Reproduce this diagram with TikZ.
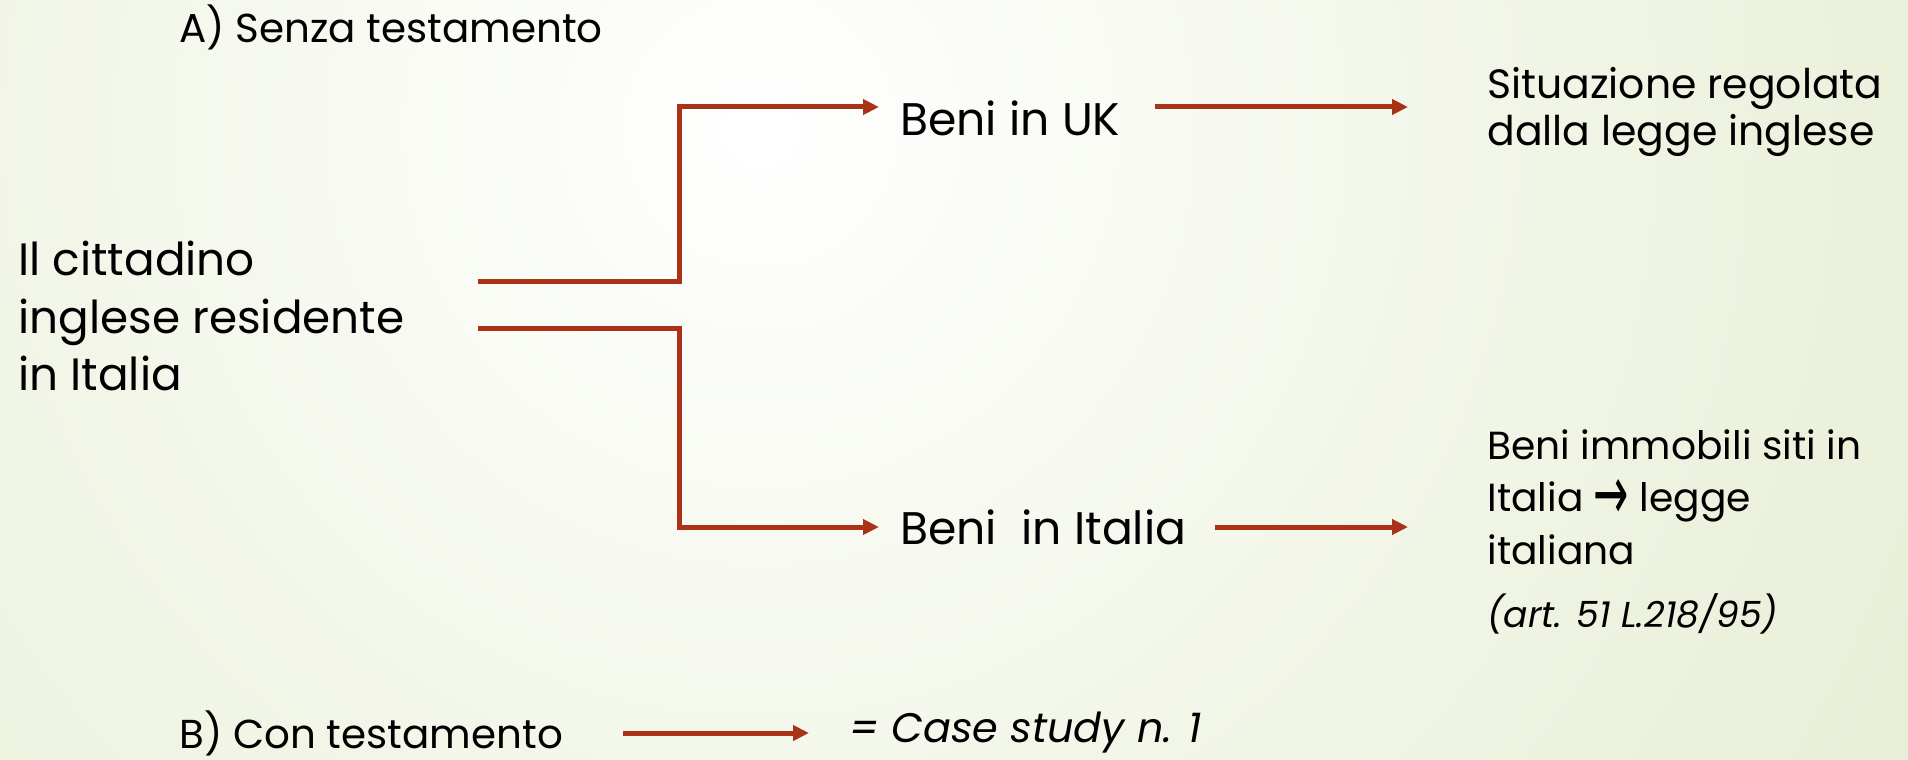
\documentclass[tikz,border=0pt]{standalone}
\usepackage{fontspec}
\setmainfont{Poppins}
\newfontfamily\symfont{DejaVu Sans}
\usetikzlibrary{arrows.meta}

\definecolor{bggreen}{RGB}{214,226,182}
\definecolor{arrowred}{RGB}{170,50,22}

\tikzset{
    txt/.style={anchor=west, inner sep=0pt, align=left, font=\fontsize{26}{32}\selectfont},
    head/.style={anchor=west, inner sep=0pt, font=\fontsize{23}{28}\selectfont},
    note/.style={anchor=west, inner sep=0pt, font=\fontsize{20.5}{24}\selectfont\itshape},
    arr/.style={draw=arrowred, line width=0.1cm, -{Triangle[length=0.32cm,width=0.3cm]}}
}

\begin{document}
\begin{tikzpicture}[x=0.02cm, y=-0.02cm]
    % Background
    \useasboundingbox (0,0) rectangle (1908,760);
    \begin{scope}
        \clip (0,0) rectangle (1908,760);
        \shade[inner color=white, outer color=bggreen] (-1540,-2170) rectangle (3060,2430);
    \end{scope}
    % Headings
    \node[head] (withoutwill) at (179,27) {A) Senza testamento};
    \node[head] (withwill) at (179,733) {B) Con testamento};
    % Citizen
    \node[txt, font=\fontsize{25.8}{32.5}\selectfont] (citizen) at (18,316) {Il cittadino\\inglese residente\\in Italia};
    % Branches
    \node[txt] (ukgoods) at (900,118) {Beni in UK};
    \node[txt] (itgoods) at (900,527) {Beni\ \ in Italia};
    % Outcomes
    \node[txt, font=\fontsize{23.3}{26.5}\selectfont] (uklaw) at (1487,112) {Situazione regolata\\dalla legge inglese};
    \node[txt, font=\fontsize{22.3}{30}\selectfont] (itlaw) at (1487,497) {Beni immobili siti in\\Italia {\symfont\fontsize{24}{30}\selectfont\raisebox{-4.7pt}{\scalebox{1}[1.8]{→}}} legge\\italiana};
    \node[note] (article) at (1487,614) {(art. 51 L.218/95)};
    \node[note, font=\fontsize{23.5}{28}\selectfont\itshape] (casestudy) at (849,733) {= Case study n. 1};
    % Fork coordinates
    \coordinate (forkup) at (478,282);
    \coordinate (forkdown) at (478,329);
    % Connectors
    \draw[arr] (forkup) -- (679,282) |- ([xshift=-0.42cm, yshift=0.22cm]ukgoods.west);
    \draw[arr] (forkdown) -- (679,329) |- ([xshift=-0.42cm]itgoods.west);
    \draw[arr, shorten <=0.68cm, shorten >=1.58cm] ([yshift=0.22cm]ukgoods.east) -- ([yshift=0.22cm]uklaw.west |- ukgoods.east);
    \draw[arr, shorten <=0.56cm, shorten >=1.58cm] (itgoods.east) -- (itlaw.west |- itgoods.east);
    \draw[arr, shorten <=1.2cm, shorten >=0.8cm] (withwill.east) -- (casestudy.west);
\end{tikzpicture}
\end{document}
